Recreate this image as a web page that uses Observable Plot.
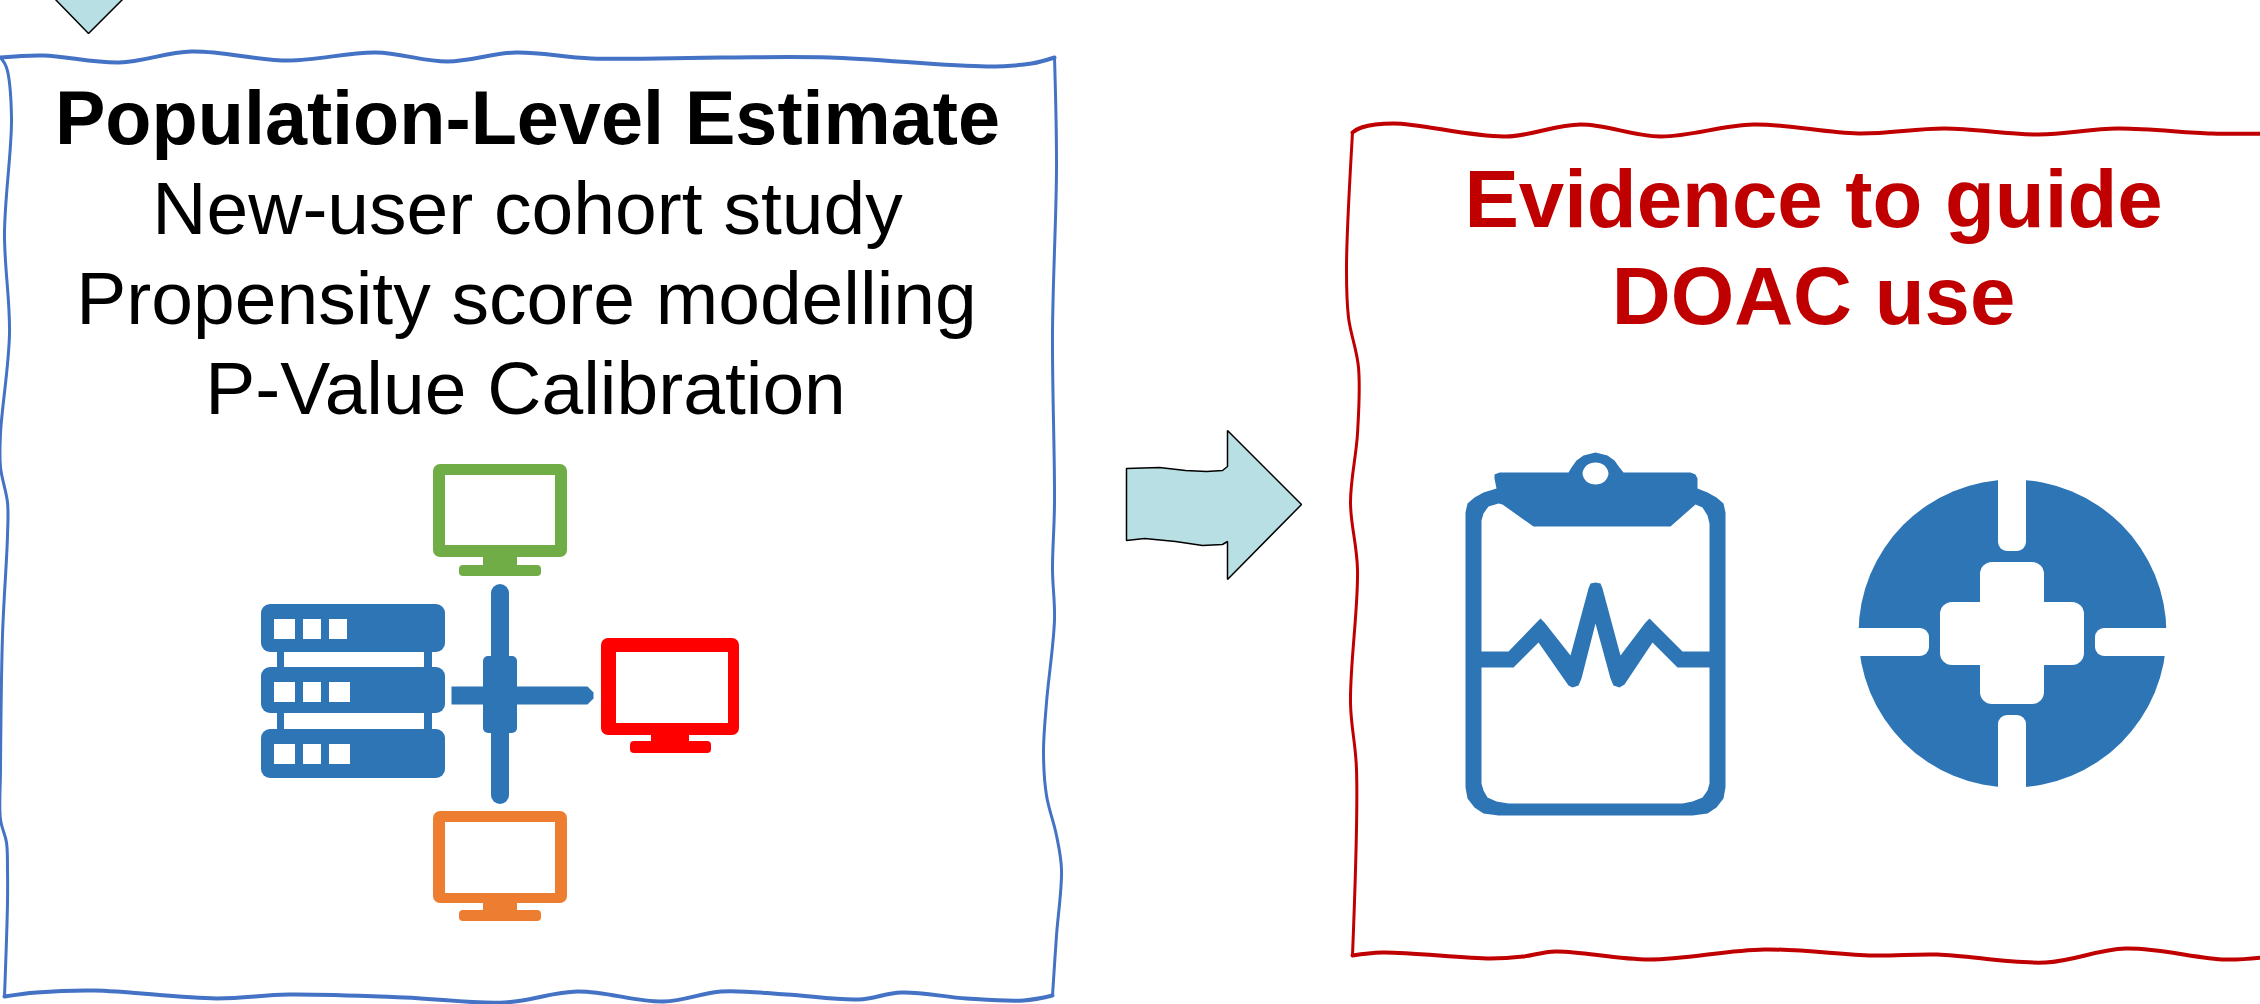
<!DOCTYPE html>
<html>
<head>
<meta charset="utf-8">
<style>html,body{margin:0;padding:0;background:#fff}svg{display:block}</style>
<script src="https://cdn.jsdelivr.net/npm/d3@7"></script>
<script src="https://cdn.jsdelivr.net/npm/@observablehq/plot@0.6"></script>
</head>
<body>
<div id="chart"></div>
<script>
const toPts = a => a.map(([x, y]) => ({x, y}));
const BLUE = "#2E75B6", WHITE = "#FFFFFF", ARROW = "#B8DFE3";

// hand-drawn frame around the left panel
const leftTop = [[0,57],[43,55],[119,62],[191,51],[288,60],[375,52],[447,61],[515,52],[591,58],[721,57],[829,57],[987,66],[1031,63],[1054,57]];
const leftRight = [[1054,57],[1056,167],[1052,333],[1054,502],[1052,569],[1054,619],[1046,702],[1043,752],[1046,795],[1056,835],[1061,869],[1056,935],[1052,995]];
const leftBottom = [[1052,995],[1023,1000],[966,998],[901,992],[858,999],[786,994],[721,991],[663,1001],[577,991],[504,1002],[404,997],[288,994],[216,998],[94,990],[36,992],[4,996]];
const leftLeft = [[4,996],[7,902],[7,869],[6,842],[0,819],[0,769],[2,635],[7,535],[7,502],[0,467],[0,433],[9,333],[4,233],[11,117],[6,67],[0,57]];

// hand-drawn frame around the right panel
const rightTop = [[1352,132],[1361,127],[1393,123],[1505,136],[1580,124],[1660,136],[1753,124],[1858,133],[1944,128],[2038,134],[2117,128],[2211,133],[2270,133]];
const rightLeft = [[1352,132],[1346,267],[1348,317],[1358,367],[1357,433],[1350,502],[1357,569],[1350,702],[1356,769],[1352,955]];
const rightBottom = [[1352,955],[1382,952],[1490,958],[1523,956],[1555,951],[1649,959],[1764,949],[1872,955],[1937,954],[2045,962],[2125,948],[2225,959],[2270,956]];

// arrows
const bigArrow = [[1126,468],[1159,467],[1185,470],[1206,471],[1222,470],[1227,466],[1227,430],[1301,504],[1227,579],[1227,541],[1222,544],[1202,545],[1175,541],[1144,538],[1126,540],[1126,468]];
const topArrow = [[54,-2],[88,33],[123,-2]];

// text
const boldLeft = [{t:"Population-Level Estimate", x:527, y:143}];
const plainLeft = [
  {t:"New-user cohort study", x:527, y:233},
  {t:"Propensity score modelling", x:526, y:323},
  {t:"P-Value Calibration", x:525, y:413}
];
const boldRight = [
  {t:"Evidence to guide", x:1813, y:226},
  {t:"DOAC use", x:1813, y:323}
];

// monitors
const frames = [
  {c:"#70AD47", x1:433, x2:567, y1:464, y2:557},
  {c:"#ED7D31", x1:433, x2:567, y1:811, y2:903},
  {c:"#FF0000", x1:601, x2:739, y1:638, y2:735}
];
const screens = [
  {x1:445, x2:555, y1:475, y2:545},
  {x1:445, x2:555, y1:822, y2:893},
  {x1:616, x2:728, y1:652, y2:723}
];
const necks = [
  {c:"#70AD47", x1:483, x2:517, y1:556, y2:567},
  {c:"#ED7D31", x1:483, x2:517, y1:902, y2:912},
  {c:"#FF0000", x1:651, x2:689, y1:734, y2:744}
];
const feet = [
  {c:"#70AD47", x1:459, x2:541, y1:565, y2:576},
  {c:"#ED7D31", x1:459, x2:541, y1:910, y2:921},
  {c:"#FF0000", x1:630, x2:711, y1:741, y2:753}
];

// server rack and network cross
const serverUnits = [{x1:261,x2:445,y1:604,y2:652},{x1:261,x2:445,y1:667,y2:713},{x1:261,x2:445,y1:729,y2:778}];
const serverLinks = [{x1:277,x2:284,y1:650,y2:668},{x1:424,x2:432,y1:650,y2:668},{x1:277,x2:284,y1:712,y2:730},{x1:424,x2:432,y1:712,y2:730}];
const serverSlots = [
  {x1:274,x2:295,y1:619,y2:639},{x1:303,x2:321,y1:619,y2:639},{x1:329,x2:347,y1:619,y2:639},
  {x1:274,x2:295,y1:682,y2:702},{x1:303,x2:321,y1:682,y2:702},{x1:329,x2:350,y1:682,y2:702},
  {x1:274,x2:295,y1:744,y2:764},{x1:303,x2:321,y1:744,y2:764},{x1:329,x2:350,y1:744,y2:764}
];
const crossPole = [{x1:491,x2:509,y1:584,y2:804}];
const crossHub = [{x1:483,x2:517,y1:656,y2:733}];
const crossArm = [[451,686],[587,686],[593,692],[593,698],[587,704],[451,704]];

// clipboard
const clipOuter = [[1499,472],[1568,472],[1571,467],[1576,460],[1583,455],[1595,452],[1607,455],[1614,460],[1619,467],[1623,472],[1690,472],[1695,474],[1697,478],[1697,488],[1707,492],[1716,497],[1723,503],[1725,512],[1725,787],[1723,798],[1716,807],[1707,813],[1692,815],[1498,815],[1483,813],[1474,807],[1467,798],[1465,787],[1465,512],[1467,503],[1474,497],[1483,492],[1496,488],[1494,478],[1494,474]];
const clipUpper = [[1481,651],[1481,520],[1483,513],[1488,506],[1498,503],[1502,504],[1533,526],[1670,526],[1695,504],[1702,507],[1707,515],[1709,523],[1709,651],[1682,651],[1653,622],[1649,618],[1645,622],[1620,655],[1602,588],[1600,583],[1595,582],[1590,583],[1588,588],[1570,655],[1544,622],[1540,618],[1536,622],[1508,651]];
const clipLower = [[1481,667],[1513,667],[1538,642],[1568,685],[1572,687],[1578,685],[1581,678],[1595,623],[1610,678],[1613,685],[1619,687],[1624,684],[1652,642],[1677,667],[1709,667],[1709,783],[1707,790],[1702,797],[1692,801],[1682,803],[1508,803],[1496,801],[1487,797],[1483,790],[1481,783]];
const clipHole = [[1595,462],[1604,465],[1608,473],[1604,481],[1595,484],[1586,481],[1582,473],[1586,465]];

// medical cross disc
const disc = [{x:2012, y:633}];
const discSlits = [
  {x1:1998,x2:2026,y1:470,y2:551},
  {x1:1998,x2:2026,y1:715,y2:796},
  {x1:1845,x2:1929,y1:628,y2:656},
  {x1:2095,x2:2180,y1:628,y2:656}
];
const discCross = [
  {x1:1980,x2:2044,y1:562,y2:704},
  {x1:1940,x2:2084,y1:602,y2:665}
];

const box = (data, o = {}) => Plot.rect(data, {x1:"x1", x2:"x2", y1:"y1", y2:"y2", ...o});
const edge = (a, stroke, strokeWidth) => Plot.line(toPts(a), {x:"x", y:"y", stroke, strokeWidth, curve:"catmull-rom"});
const poly = (a, fill, o = {}) => Plot.line(toPts(a), {x:"x", y:"y", fill, stroke:"none", ...o});
const label = (data, fill, fontWeight, fontSize) => Plot.text(data, {x:"x", y:"y", text:"t", fill, fontWeight, fontSize, fontFamily:"Liberation Sans", textAnchor:"middle", lineAnchor:"bottom"});

const chart = Plot.plot({
  width: 2260, height: 1004,
  marginTop: 0, marginRight: 0, marginBottom: 0, marginLeft: 0,
  x: {domain:[0,2260], range:[0,2260], axis:null},
  y: {domain:[0,1004], range:[0,1004], axis:null},
  style: {background:"#fff"},
  marks: [
    edge(leftTop,"#4472C4",4), edge(leftRight,"#4472C4",3), edge(leftBottom,"#4472C4",4), edge(leftLeft,"#4472C4",3),
    edge(rightTop,"#C00000",4), edge(rightLeft,"#C00000",3), edge(rightBottom,"#C00000",4),
    Plot.line(toPts(bigArrow), {x:"x", y:"y", fill:ARROW, stroke:"#000", strokeWidth:1.5, strokeLinejoin:"miter"}),
    Plot.line(toPts(topArrow), {x:"x", y:"y", fill:ARROW, stroke:"#000", strokeWidth:1.5, strokeLinejoin:"miter"}),
    label(boldLeft, "#000000", 700, 75.6),
    label(plainLeft, "#000000", 400, 75),
    label(boldRight, "#C00000", 700, 81.6),
    box(frames, {fill:"c", rx:7}),
    box(necks, {fill:"c"}),
    box(feet, {fill:"c", rx:4}),
    box(screens, {fill:WHITE}),
    box(serverLinks, {fill:BLUE}),
    box(serverUnits, {fill:BLUE, rx:9}),
    box(serverSlots, {fill:WHITE}),
    poly(crossArm, BLUE),
    box(crossPole, {fill:BLUE, rx:9}),
    box(crossHub, {fill:BLUE, rx:5}),
    poly(clipOuter, BLUE),
    poly(clipUpper, WHITE),
    poly(clipLower, WHITE),
    poly(clipHole, WHITE, {curve:"catmull-rom-closed"}),
    Plot.dot(disc, {x:"x", y:"y", r:154, fill:BLUE, stroke:"none"}),
    box(discSlits, {fill:WHITE, rx:9}),
    box(discCross, {fill:WHITE, rx:12})
  ]
});
document.getElementById("chart").append(chart);
</script>
</body>
</html>
